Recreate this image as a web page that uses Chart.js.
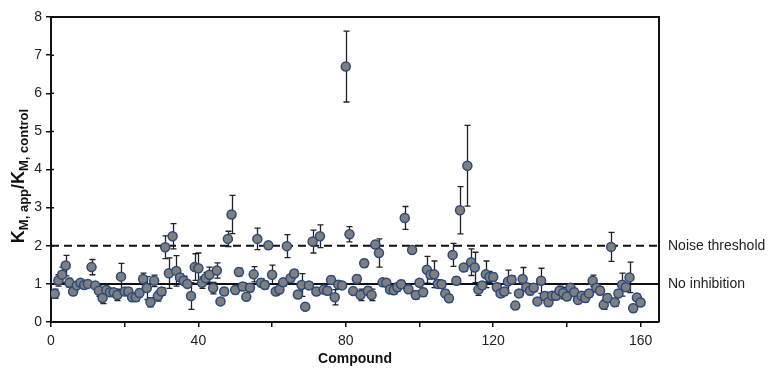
<!DOCTYPE html>
<html>
<head>
<meta charset="utf-8">
<script src="https://cdn.jsdelivr.net/npm/chart.js@4"></script>
<style>
html,body{margin:0;padding:0;background:#fff;}
#wrap{width:771px;height:368px;position:relative;}
</style>
</head>
<body>
<div id="wrap"><canvas id="c" width="771" height="368"></canvas></div>
<script>
// ---- data ----
const values = [
0.74,1.09,1.24,1.48,1.03,0.80,0.96,1.03,0.97,1.00,
1.44,0.96,0.82,0.63,0.84,0.78,0.78,0.71,1.19,0.80,
0.80,0.65,0.65,0.76,1.13,0.89,0.52,1.08,0.68,0.80,
1.96,1.28,2.25,1.34,1.17,1.08,1.00,0.68,1.44,1.41,
1.03,1.15,1.24,0.89,1.35,0.54,0.80,2.18,2.82,0.84,
1.31,0.93,0.66,0.90,1.25,2.18,1.03,0.97,2.01,1.24,
0.80,0.85,1.04,1.99,1.15,1.27,0.72,0.97,0.40,0.96,
2.11,0.80,2.25,0.85,0.82,1.10,0.65,0.98,0.96,6.70,
2.30,0.81,1.13,0.71,1.54,0.82,0.71,2.03,1.81,1.04,
1.03,0.85,0.83,0.91,0.99,2.73,0.86,1.89,0.71,1.03,
0.78,1.37,1.24,1.25,1.00,0.99,0.75,0.62,1.76,1.08,
2.93,1.43,4.10,1.57,1.43,0.85,0.96,1.25,1.18,1.18,
0.91,0.75,0.80,1.06,1.11,0.43,0.75,1.13,0.91,0.82,
0.90,0.54,1.08,0.68,0.52,0.69,0.69,0.82,0.76,0.67,
0.90,0.78,0.58,0.69,0.63,0.75,1.08,0.90,0.82,0.45,
0.63,1.97,0.52,0.75,0.98,0.91,1.17,0.36,0.64,0.51
];
const errors = [
0.12,0.15,0.20,0.27,0.12,0.10,0.08,0.06,0.06,0.06,
0.20,0.06,0.15,0.15,0.10,0.08,0.08,0.15,0.35,0.08,
0.10,0.10,0.10,0.10,0.15,0.30,0.12,0.15,0.13,0.10,
0.30,0.40,0.33,0.40,0.10,0.12,0.10,0.35,0.35,0.40,
0.15,0.15,0.20,0.15,0.20,0.06,0.10,0.20,0.50,0.10,
0.10,0.10,0.08,0.10,0.20,0.28,0.10,0.10,0.10,0.25,
0.10,0.10,0.10,0.30,0.10,0.10,0.10,0.30,0.08,0.08,
0.30,0.10,0.30,0.10,0.10,0.10,0.20,0.10,0.08,0.93,
0.20,0.08,0.10,0.15,0.10,0.10,0.15,0.10,0.37,0.10,
0.08,0.10,0.10,0.10,0.10,0.30,0.08,0.05,0.10,0.08,
0.10,0.35,0.10,0.35,0.10,0.08,0.10,0.10,0.30,0.10,
0.62,0.10,1.06,0.35,0.40,0.15,0.10,0.35,0.15,0.10,
0.10,0.10,0.10,0.30,0.10,0.10,0.10,0.30,0.10,0.10,
0.10,0.08,0.33,0.10,0.10,0.10,0.10,0.12,0.15,0.10,
0.10,0.10,0.10,0.10,0.10,0.10,0.15,0.10,0.10,0.12,
0.10,0.38,0.10,0.10,0.30,0.10,0.40,0.10,0.10,0.08
];
const compounds = values.map((v, i) => i + 1);
const xTicks = [0, 20, 40, 60, 80, 100, 120, 140, 160];
const xLabelTicks = [0, 40, 80, 120, 160];
const yTicks = [0, 1, 2, 3, 4, 5, 6, 7, 8];
const refLines = [
  { label: 'No inhibition', y: 1, dash: [] },
  { label: 'Noise threshold', y: 2, dash: [8, 5] }
];
const xRange = [0, 165];
const yRange = [0, 8];

// ---- plugins ----
const FONT = '"Liberation Sans", Arial, sans-serif';
const errorBars = {
  id: 'errorBars',
  beforeDatasetsDraw(chart) {
    const ctx = chart.ctx, xs = chart.scales.x, ys = chart.scales.y;
    ctx.save();
    ctx.strokeStyle = '#222';
    ctx.lineWidth = 1.3;
    for (let i = 0; i < values.length; i++) {
      const px = Math.round(xs.getPixelForValue(compounds[i])) + 0.5;
      const yt = ys.getPixelForValue(values[i] + errors[i]);
      const yb = ys.getPixelForValue(values[i] - errors[i]);
      ctx.beginPath();
      ctx.moveTo(px, yt); ctx.lineTo(px, yb);
      ctx.moveTo(px - 3, yt); ctx.lineTo(px + 3, yt);
      ctx.moveTo(px - 3, yb); ctx.lineTo(px + 3, yb);
      ctx.stroke();
    }
    ctx.restore();
  }
};
const frame = {
  id: 'frame',
  afterDraw(chart) {
    const ctx = chart.ctx, a = chart.chartArea, ys = chart.scales.y;
    ctx.save();
    ctx.strokeStyle = '#111';
    ctx.lineWidth = 2;
    ctx.beginPath();
    ctx.moveTo(a.left, a.top); ctx.lineTo(a.right, a.top); ctx.lineTo(a.right, a.bottom);
    ctx.stroke();
    // inward part of y ticks
    ctx.lineWidth = 1.5;
    ctx.beginPath();
    yTicks.forEach(v => { const p = ys.getPixelForValue(v); ctx.moveTo(a.left, p); ctx.lineTo(a.left + 3, p); });
    ctx.stroke();
    // reference line labels
    ctx.fillStyle = '#222';
    ctx.font = '14px ' + FONT;
    ctx.textBaseline = 'middle';
    ctx.textAlign = 'left';
    refLines.forEach(r => ctx.fillText(r.label, a.right + 9, ys.getPixelForValue(r.y)));
    // y axis title with subscripts
    const parts = [
      ['K', 'bold 18px ' + FONT, 0],
      ['M, app', 'bold 13px ' + FONT, 4],
      ['/K', 'bold 18px ' + FONT, 0],
      ['M, control', 'bold 13px ' + FONT, 4]
    ];
    let total = 0;
    parts.forEach(p => { ctx.font = p[1]; total += ctx.measureText(p[0]).width; });
    ctx.translate(18, 176);
    ctx.rotate(-Math.PI / 2);
    let x = -total / 2;
    ctx.textBaseline = 'alphabetic';
    ctx.fillStyle = '#111';
    parts.forEach(p => { ctx.font = p[1]; ctx.fillText(p[0], x, 6 + p[2]); x += ctx.measureText(p[0]).width; });
    ctx.restore();
  }
};

const datasets = [
  {
    type: 'scatter',
    data: compounds.map((c, i) => ({ x: c, y: values[i] })),
    backgroundColor: '#7f7f7f',
    borderColor: '#2b4a80',
    borderWidth: 1.5,
    pointRadius: 4.5,
    order: 1
  }
].concat(refLines.map(r => ({
  type: 'line',
  data: [{ x: xRange[0], y: r.y }, { x: xRange[1], y: r.y }],
  borderColor: '#111',
  borderWidth: 2,
  borderDash: r.dash,
  pointRadius: 0,
  fill: false,
  order: 2
})));

new Chart(document.getElementById('c'), {
  data: { datasets },
  options: {
    responsive: false,
    animation: false,
    events: [],
    layout: { padding: { top: 17, right: 112, left: 0, bottom: 0 } },
    plugins: { legend: { display: false }, tooltip: { enabled: false } },
    scales: {
      x: {
        type: 'linear', min: xRange[0], max: xRange[1],
        afterBuildTicks(s) { s.ticks = xTicks.map(v => ({ value: v })); },
        afterFit(s) { s.height = 46; },
        ticks: {
          autoSkip: false, maxRotation: 0, padding: 6, color: '#222',
          font: { family: FONT, size: 14 },
          callback: v => xLabelTicks.includes(v) ? String(v) : ''
        },
        grid: { drawOnChartArea: false, drawTicks: true, tickLength: 5, color: '#111', lineWidth: 1.5 },
        border: { display: true, color: '#111', width: 2 },
        title: { display: true, text: 'Compound', color: '#111', font: { family: FONT, size: 14, weight: 'bold' }, padding: { top: 0, bottom: 0 } }
      },
      y: {
        type: 'linear', min: yRange[0], max: yRange[1],
        afterBuildTicks(s) { s.ticks = yTicks.map(v => ({ value: v })); },
        afterFit(s) { s.width = 51; },
        ticks: { padding: 4, color: '#222', font: { family: FONT, size: 14 } },
        grid: { drawOnChartArea: false, drawTicks: true, tickLength: 5, color: '#111', lineWidth: 1.5 },
        border: { display: true, color: '#111', width: 2 }
      }
    }
  },
  plugins: [errorBars, frame]
});
</script>
</body>
</html>
